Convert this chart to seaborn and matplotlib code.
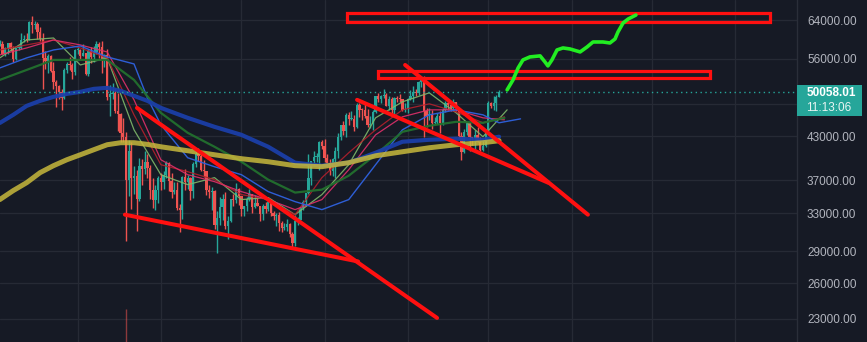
import numpy as np
import matplotlib
matplotlib.use("Agg")
import matplotlib.pyplot as plt
from matplotlib.patches import Rectangle
from matplotlib.ticker import NullLocator, FixedLocator, FixedFormatter
import seaborn as sns

# ---------------- data (prices in thousands of USD) ----------------
first_open_k = 58.74
close_k = [
    # Apr 2 - Apr 30
    58.96, 57.06, 58.2, 59.1, 57.9, 56.0, 58.1, 58.1, 59.8, 59.9, 59.8, 63.5, 62.9, 63.2, 61.4,
    60.0, 56.2, 55.7, 56.5, 53.8, 51.7, 51.1, 50.1, 49.0, 54.0, 55.0, 54.8, 53.6, 57.7,
    # May
    57.8, 56.6, 57.2, 53.2, 57.5, 56.4, 57.4, 58.9, 58.3, 55.8, 56.7, 49.2, 49.7, 49.9, 46.8, 46.4,
    43.5, 42.9, 37.0, 40.8, 37.3, 37.5, 34.7, 38.8, 38.4, 39.3, 38.5, 35.7, 34.6, 35.7, 37.3,
    # Jun
    36.7, 37.6, 39.2, 36.9, 35.5, 35.8, 33.6, 33.4, 37.4, 36.7, 37.3, 35.6, 39.1, 40.5, 40.2,
    38.3, 38.1, 35.8, 35.5, 35.6, 31.7, 32.5, 33.7, 34.7, 31.6, 32.2, 34.7, 34.5, 35.9, 35.0,
    # Jul
    33.5, 33.8, 34.7, 35.3, 33.7, 34.2, 33.9, 32.9, 33.8, 33.5, 34.3, 33.1, 32.7, 32.8, 31.9, 31.4,
    31.5, 31.8, 30.8, 29.8, 32.1, 32.3, 33.6, 34.3, 35.4, 37.3, 39.5, 40.0, 40.0, 42.2, 41.5,
    # Aug
    39.9, 39.2, 38.2, 39.7, 40.9, 42.8, 44.6, 43.8, 46.3, 45.6, 45.6, 44.4, 47.8, 47.1, 47.0, 46.0,
    44.7, 44.8, 46.7, 49.3, 48.9, 49.3, 49.5, 47.7, 48.9, 47.0, 49.0, 48.9, 48.8, 47.0, 47.2,
    # Sep
    48.8, 49.3, 50.0, 49.9, 51.8, 52.7, 46.9, 46.1, 46.4, 44.9, 45.2, 46.1, 44.9, 47.1, 48.2,
    47.8, 47.3, 48.3, 47.3, 43.0, 40.7, 43.6, 44.9, 42.8, 42.7, 43.2, 42.2, 41.0, 41.5, 43.8,
    # Oct 1 - 5
    48.1, 47.7, 48.2, 49.2, 50.05801,
]
high_k = [
    59.86, 59.6, 58.4, 59.2, 59.4, 58.6, 58.2, 58.8, 61.2, 60.7, 61.2, 63.7, 64.8, 63.8, 63.6,
    62.5, 61.2, 57.5, 57.0, 56.7, 55.4, 52.1, 51.2, 50.6, 54.3, 55.4, 56.4, 55.2, 57.9,
    58.4, 57.9, 59.0, 57.2, 57.9, 58.4, 58.6, 59.5, 59.3, 59.6, 56.9, 58.0, 51.3, 51.6, 50.7, 49.8,
    46.6, 45.8, 43.6, 42.5, 42.2, 38.8, 38.3, 39.9, 39.8, 40.9, 40.4, 38.9, 37.3, 36.4, 37.5,
    37.9, 38.2, 39.5, 39.3, 37.9, 36.8, 36.8, 34.1, 37.5, 38.4, 37.7, 37.4, 39.4, 41.1, 41.3,
    40.5, 39.6, 38.2, 36.4, 36.1, 35.7, 33.3, 34.9, 35.3, 35.5, 32.7, 34.7, 35.3, 36.6, 36.0,
    35.0, 33.9, 34.9, 35.9, 35.3, 35.1, 35.0, 33.9, 34.1, 34.3, 34.6, 34.7, 33.3, 33.1, 33.2, 32.2,
    31.9, 32.4, 31.9, 31.0, 32.8, 32.6, 33.7, 34.5, 35.4, 40.5, 39.5, 40.9, 40.6, 42.3, 42.4,
    42.6, 40.4, 39.8, 39.9, 41.4, 43.4, 44.7, 45.3, 46.5, 46.7, 46.8, 46.2, 48.1, 48.1, 47.4, 48.0,
    47.2, 46.0, 47.0, 49.4, 49.8, 49.5, 50.5, 49.9, 49.3, 49.1, 49.2, 49.3, 49.6, 48.9, 48.2,
    49.0, 50.4, 51.0, 50.6, 51.9, 52.9, 52.9, 47.4, 47.4, 47.0, 45.9, 46.5, 46.9, 47.3, 48.5,
    48.5, 48.2, 48.8, 48.4, 47.4, 43.6, 44.0, 45.0, 45.0, 42.9, 43.9, 44.4, 42.8, 42.6, 44.1,
    48.5, 48.4, 49.3, 49.5, 50.4,
]
low_k = [
    58.6, 57.0, 56.6, 56.9, 57.6, 55.5, 55.9, 57.7, 57.9, 59.4, 59.4, 59.8, 61.3, 62.1, 60.0,
    59.6, 50.5, 54.2, 53.4, 53.6, 50.6, 47.5, 48.8, 47.0, 48.8, 53.3, 53.9, 52.3, 53.0,
    57.0, 56.0, 56.5, 53.0, 52.9, 55.2, 55.4, 56.9, 56.2, 53.4, 54.4, 48.6, 46.0, 48.8, 46.6, 43.8,
    42.1, 42.2, 30.0, 35.0, 33.5, 35.3, 31.1, 34.4, 36.4, 37.8, 37.2, 34.7, 33.6, 33.4, 34.2,
    35.7, 35.9, 37.2, 35.6, 34.8, 35.3, 33.4, 31.0, 32.4, 35.8, 35.9, 34.6, 34.8, 38.7, 39.5,
    38.1, 37.4, 35.2, 34.8, 33.4, 31.3, 28.8, 31.7, 32.3, 31.3, 30.2, 32.0, 33.9, 34.2, 34.0,
    32.7, 32.7, 33.3, 34.4, 33.1, 33.6, 33.8, 32.1, 32.3, 33.0, 33.3, 32.7, 32.3, 31.6, 31.1, 31.0,
    31.2, 31.1, 30.4, 29.3, 29.5, 31.7, 32.0, 33.4, 33.8, 35.3, 36.4, 38.8, 39.3, 38.3, 41.1,
    39.4, 38.7, 37.6, 37.5, 37.3, 39.9, 42.5, 43.1, 42.8, 44.7, 45.4, 43.8, 44.2, 45.9, 45.5, 45.7,
    44.4, 44.2, 43.9, 46.6, 48.3, 48.1, 49.0, 47.6, 47.1, 46.4, 46.4, 48.4, 48.3, 46.9, 46.7,
    46.5, 48.6, 48.4, 49.4, 49.5, 50.9, 42.8, 44.4, 45.5, 44.1, 44.8, 44.8, 43.4, 44.7, 46.7,
    47.1, 46.8, 47.1, 46.9, 42.6, 39.6, 40.6, 43.1, 40.8, 41.7, 40.8, 42.1, 40.9, 40.8, 41.4,
    43.3, 47.4, 47.1, 46.9, 49.1,
]
# isolated spike wick under the May 19 candle
spike_idx = [47]
spike_top_k = [23.8]
spike_bottom_k = [21.0]

# moving averages
slow_idx = [0, 5, 10, 15, 20, 25, 30, 35, 40, 45, 50, 55, 60, 70, 80, 90, 100, 110, 120, 130, 140,
            150, 160, 170, 180, 186]
ma_yellow_k = [34.60, 35.68, 36.66, 37.94, 38.86, 39.66, 40.34, 41.04, 41.75, 42.04, 42.04, 41.80,
               41.46, 40.90, 40.34, 39.80, 39.39, 38.86, 38.73, 39.26, 40.20, 40.76, 41.32, 41.75,
               42.04, 42.33]
ma_blue_thick_k = [44.98, 46.25, 47.69, 48.52, 49.19, 49.70, 50.04, 50.55, 50.73, 50.21, 49.36, 48.52,
                   47.37, 45.78, 44.39, 43.19, 41.46, 39.26, 38.86, 39.26, 40.62, 42.18, 42.47, 42.62,
                   42.47, 42.91]
dkgreen_idx = [0, 10, 20, 30, 40, 50, 60, 70, 80, 90, 100, 110, 120, 130, 140, 150, 160, 170, 180, 188]
ma_dkgreen_k = [52.13, 53.94, 55.82, 55.82, 55.82, 52.13, 46.57, 43.49, 41.46, 39.39, 37.04, 35.44,
                35.80, 37.55, 40.34, 43.64, 44.55, 45.16, 45.01, 45.78]
blue_idx = [0, 10, 20, 30, 40, 50, 55, 60, 70, 80, 90, 100, 110, 120, 130, 140, 150, 160, 170, 180,
            186, 194]
ma_blue_k = [54.31, 56.21, 57.76, 58.56, 56.40, 55.06, 49.0, 44.70, 39.93, 38.72, 37.68, 35.56, 34.36,
             33.43, 34.60, 38.99, 43.94, 46.25, 47.05, 46.25, 45.01, 45.62]
pink_idx = [0, 10, 20, 30, 40, 50, 60, 70, 80, 90, 100, 110, 120, 130, 140, 150, 160, 170, 180, 188]
ma_pink_k = [56.79, 58.16, 59.77, 58.76, 57.37, 48.69, 39.66, 37.68, 36.79, 35.56, 34.60, 33.43,
             34.60, 38.33, 43.19, 45.94, 47.05, 47.05, 45.78, 45.47]
red_idx = [0, 10, 20, 30, 40, 50, 60, 70, 80, 90, 100, 110, 120, 130, 140, 150, 160, 170, 180, 188]
ma_red_k = [57.76, 58.76, 59.77, 58.16, 56.21, 46.25, 38.99, 38.07, 37.04, 35.20, 34.60, 32.86,
            37.30, 40.62, 43.94, 47.05, 48.03, 46.73, 45.01, 45.94]
ltgreen_idx = [0, 10, 20, 30, 40, 50, 60, 70, 80, 90, 100, 110, 120, 130, 140, 150, 160, 170, 180, 189]
ma_ltgreen_k = [56.21, 59.77, 60.18, 54.87, 56.21, 43.94, 37.68, 36.42, 37.30, 34.60, 34.84, 32.86,
                35.20, 38.99, 45.78, 48.36, 49.87, 46.57, 42.91, 47.05]

# hand-drawn annotations (candle index, price in k)
trend_x0 = [51.1, 46.6, 133.1, 151.0]
trend_p0 = [47.37, 32.86, 48.69, 54.87]
trend_x1 = [162.9, 133.5, 204.3, 219.1]
trend_p1 = [23.07, 27.99, 36.66, 32.86]
zone_x0 = [129.4, 140.9]
zone_x1 = [287.0, 264.6]
zone_lo_k = [63.67, 52.40]
zone_hi_k = [65.55, 53.66]
path_idx = [189.0, 191.2, 193.1, 194.9, 197.5, 201.3, 203.1, 204.2, 205.7, 207.6, 209.8, 212.4,
            216.2, 218.8, 221.0, 224.7, 227.3, 229.2, 230.3, 232.2, 234.1, 237.0]
path_price_k = [50.38, 52.13, 54.31, 55.82, 56.40, 56.60, 55.44, 54.69, 55.82, 57.76, 58.16, 57.96,
                57.37, 58.36, 59.36, 59.36, 59.16, 59.97, 61.43, 63.35, 64.22, 65.10]

month_idx = [29, 60, 90, 121, 152, 182, 213, 243, 274]
price_ticks = [64000, 56000, 48000, 43000, 37000, 33000, 29000, 26000, 23000]
hidden_tick = 48000  # covered by the last-price label
last_price = 50058.01
countdown = "11:13:06"

# ---------------- style ----------------
BG = "#161a25"
GRID = "#262a35"
UP = "#26a69a"
DOWN = "#ef5350"
sns.set_theme(style="dark", rc={"axes.facecolor": BG, "figure.facecolor": BG})
plt.rcParams["font.family"] = ["Liberation Sans", "DejaVu Sans"]

fig = plt.figure(figsize=(8.67, 3.42), dpi=100, facecolor=BG)
ax = fig.add_axes([0, 0, 797 / 867, 1])
ax.set_facecolor(BG)
ax.set_yscale("log")
ax.set_ylim(21245, 68538)
ax.set_xlim(0.0745, 297.0)

K = 1000.0
close = np.array(close_k) * K
high = np.array(high_k) * K
low = np.array(low_k) * K
opens = np.concatenate([[first_open_k], close_k[:-1]]) * K
idx = np.arange(len(close))
colors = np.where(close >= opens, UP, DOWN)

# grid
for m in month_idx:
    ax.axvline(m, color=GRID, lw=0.9, zorder=0)
for t in price_ticks:
    ax.axhline(t, color=GRID, lw=0.9, zorder=0)

# candles
ax.vlines(idx, low, high, colors=colors, lw=1.0, zorder=2)
body_bot = np.minimum(close, opens)
body_h = np.maximum(np.abs(close - opens), body_bot * 0.0035)
ax.bar(idx, body_h, bottom=body_bot, width=0.84, color=colors, linewidth=0, zorder=3)
ax.vlines(spike_idx, np.array(spike_bottom_k) * K, np.array(spike_top_k) * K,
          colors=DOWN, lw=1.0, alpha=0.55, zorder=2)

# moving averages
def ma(x, y, color, lw, alpha=1.0, z=4):
    sns.lineplot(x=x, y=np.array(y) * K, ax=ax, color=color, linewidth=lw, alpha=alpha,
                 zorder=z, legend=False, sort=False)

ma(ltgreen_idx, ma_ltgreen_k, "#7fb86a", 0.9, 0.9)
ma(red_idx, ma_red_k, "#b3202c", 0.9, 0.9)
ma(pink_idx, ma_pink_k, "#e0306a", 0.9, 0.9)
ma(blue_idx, ma_blue_k, "#2f62e0", 1.0, 0.95)
ma(dkgreen_idx, ma_dkgreen_k, "#22702e", 1.6, 0.95)
ma(slow_idx, ma_blue_thick_k, "#1b3ea8", 3.0, 0.95)
ma(slow_idx, ma_yellow_k, "#c8b93c", 3.6, 0.85)
for line in ax.lines:
    line.set_solid_joinstyle("round")

# last price line
ax.axhline(last_price, color=UP, lw=1.0, ls=(0, (1, 2.5)), zorder=5)

# drawings
for x0, p0, x1, p1 in zip(trend_x0, trend_p0, trend_x1, trend_p1):
    sns.lineplot(x=[x0, x1], y=[p0 * K, p1 * K], ax=ax, color="#ff1010", linewidth=2.9,
                 zorder=6, legend=False, sort=False)
for x0, x1, lo, hi in zip(zone_x0, zone_x1, zone_lo_k, zone_hi_k):
    ax.add_patch(Rectangle((x0, lo * K), x1 - x0, (hi - lo) * K, fill=False,
                           edgecolor="#ff1010", linewidth=2.3, zorder=6))
sns.lineplot(x=path_idx, y=np.array(path_price_k) * K, ax=ax, color="#22ee22",
             linewidth=2.6, zorder=7, legend=False, sort=False)
ax.lines[-1].set_solid_capstyle("round")
ax.lines[-1].set_solid_joinstyle("round")

# axes cosmetics
ax.yaxis.tick_right()
ax.yaxis.set_major_locator(FixedLocator(price_ticks))
ax.yaxis.set_major_formatter(FixedFormatter(
    ["" if v == hidden_tick else f"{v:.2f}" for v in price_ticks]))
ax.yaxis.set_minor_locator(NullLocator())
ax.tick_params(axis="y", which="both", length=0, pad=7.2, labelsize=8.5, labelcolor="#b2b5be")
ax.tick_params(axis="x", which="both", bottom=False, labelbottom=False)
ax.set_xlabel("")
ax.set_ylabel("")
for s in ["top", "bottom", "left"]:
    ax.spines[s].set_visible(False)
ax.spines["right"].set_color("#2a2e39")
ax.spines["right"].set_linewidth(1.0)
ax.grid(False)

# price label box
fig.add_artist(Rectangle((797 / 867, 1 - 116 / 342), 65 / 867, 31 / 342,
                         transform=fig.transFigure, facecolor=UP, edgecolor="none", zorder=5))
fig.text(806.5 / 867, 1 - 93 / 342, f"{last_price:.2f}", color="white", fontsize=8.5,
         fontweight="bold", va="center", ha="left", zorder=6)
fig.text(806.5 / 867, 1 - 108 / 342, countdown, color="#e8f5f3", fontsize=8.5,
         va="center", ha="left", zorder=6)

fig.savefig("out.png", dpi=100, facecolor=BG)
